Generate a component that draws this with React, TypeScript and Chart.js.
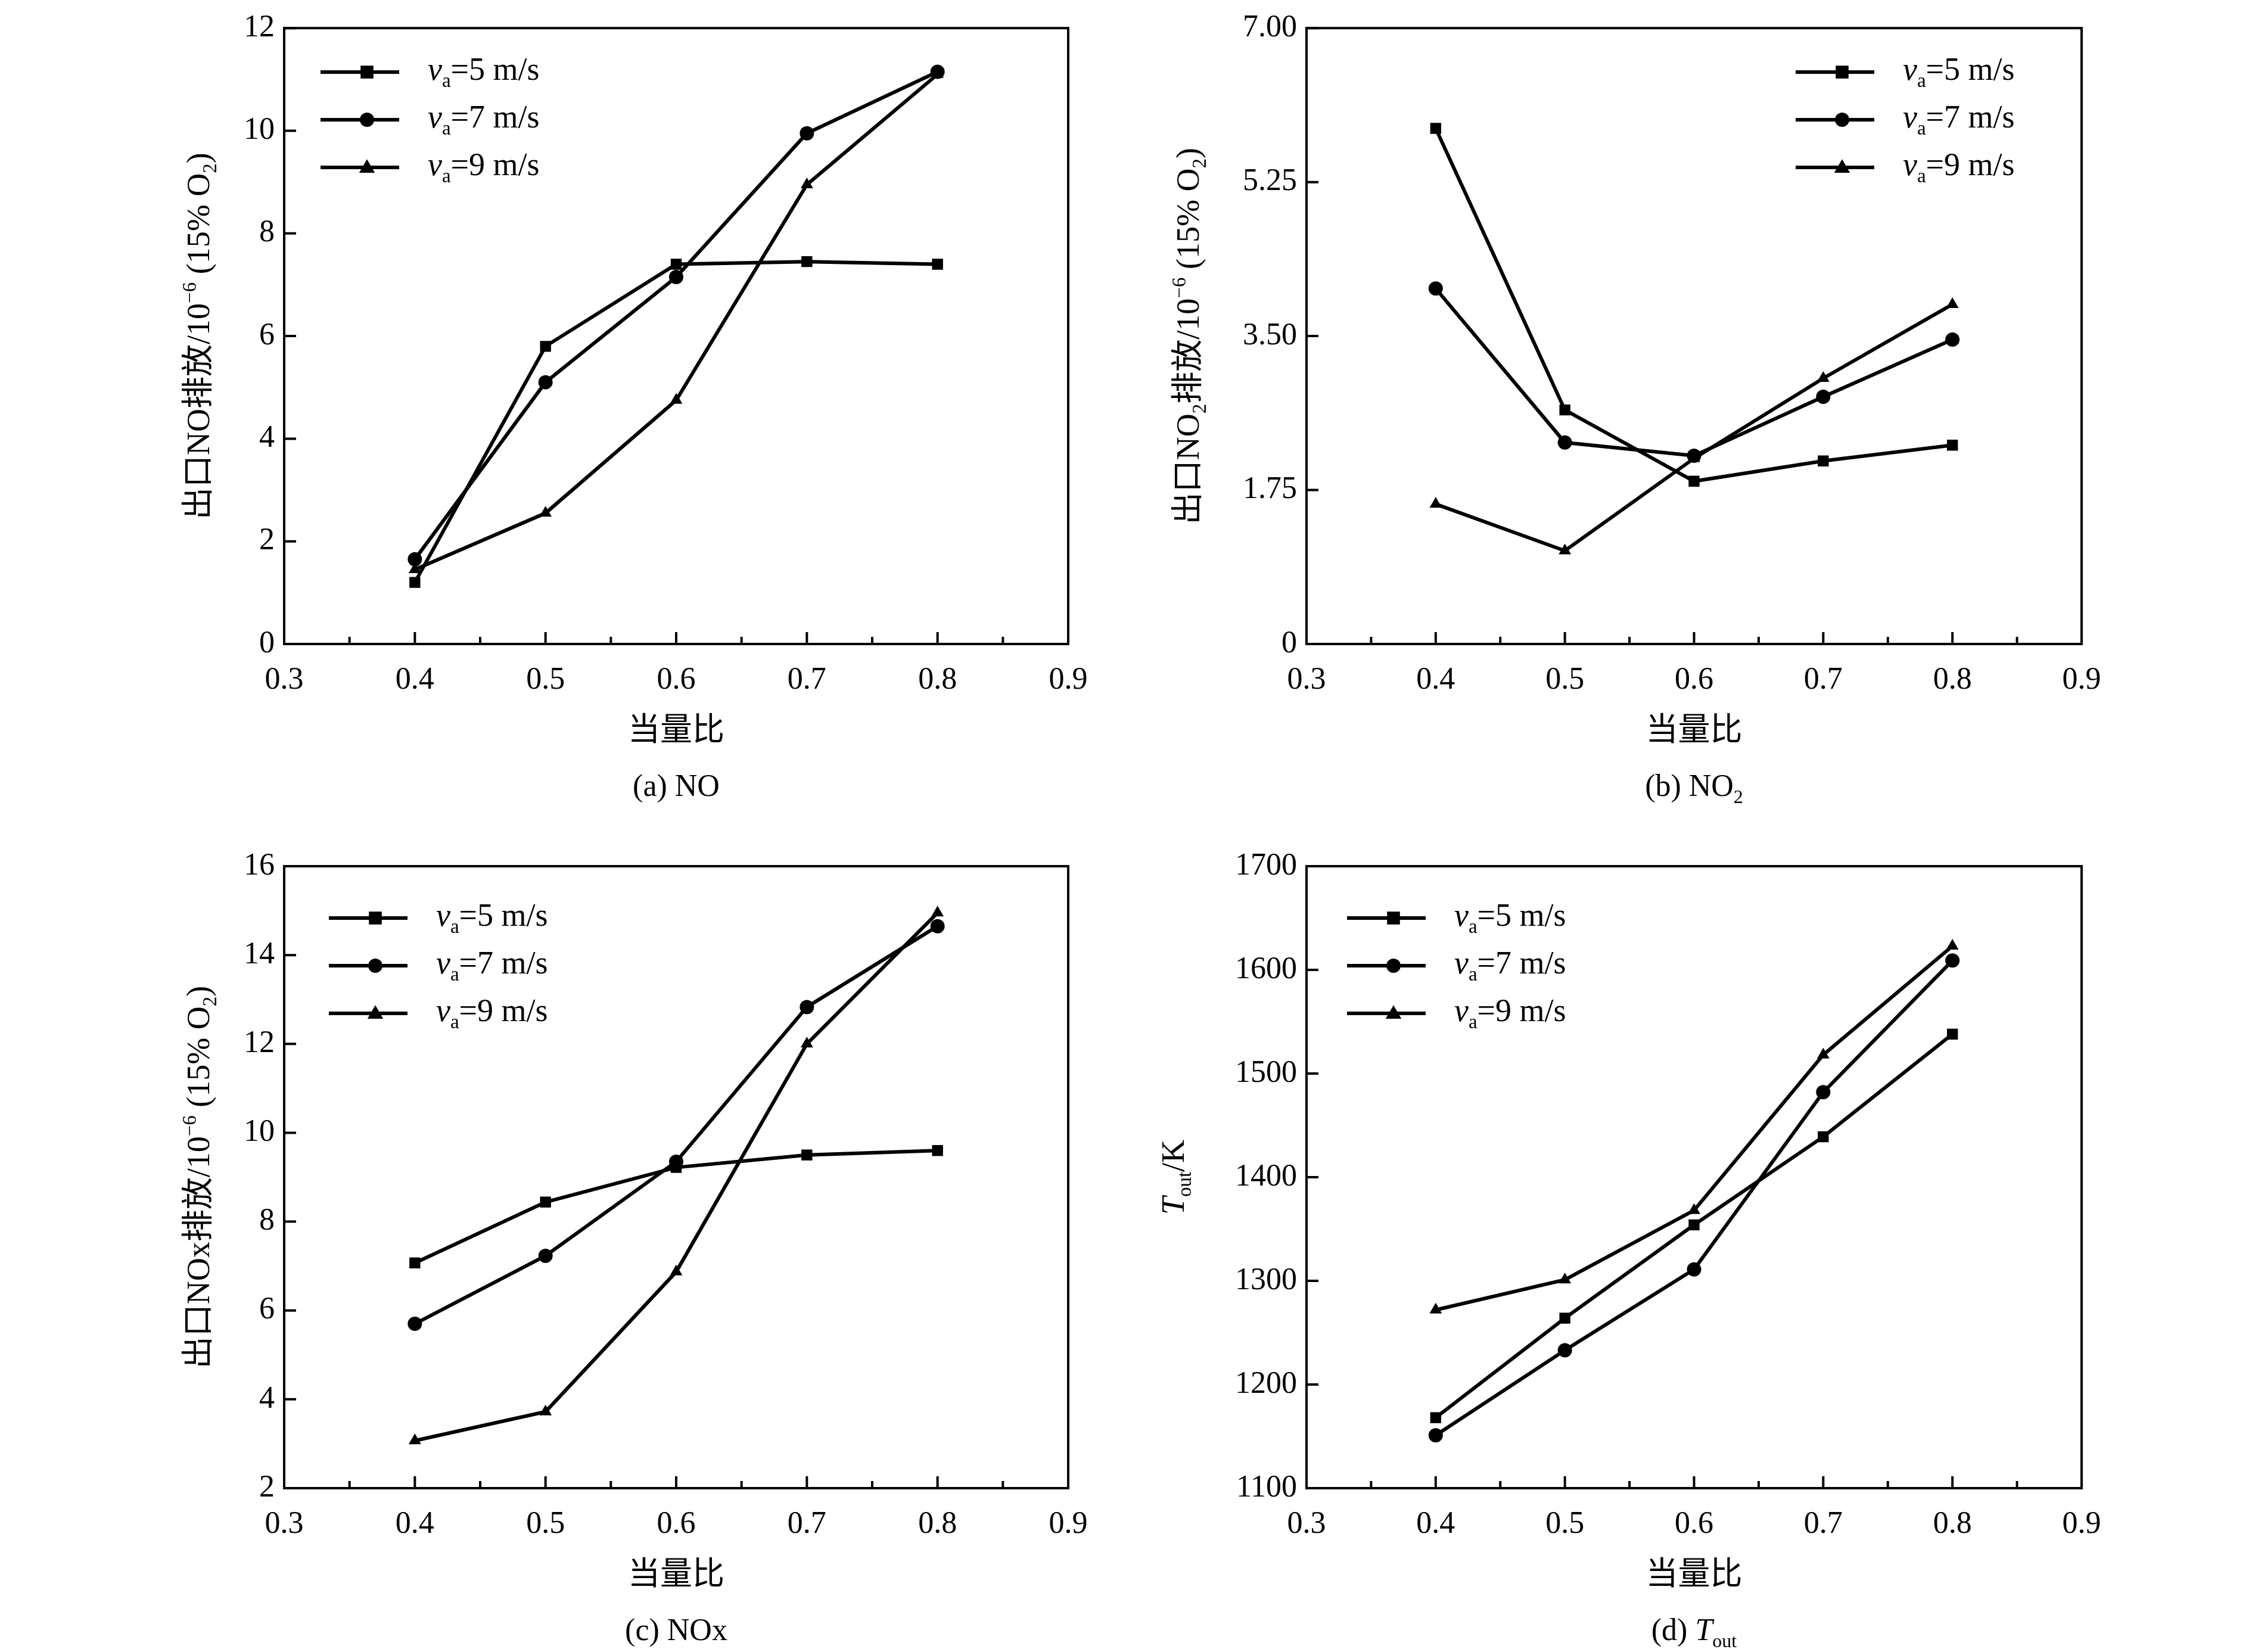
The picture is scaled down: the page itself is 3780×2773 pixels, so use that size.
import React, { useEffect, useRef } from "react";
import { Chart, registerables } from "chart.js";
Chart.register(...registerables);

const xValues = [0.4, 0.5, 0.6, 0.7, 0.8];
const legendLabels = ["5", "7", "9"];
const markerStyles = ["rect", "circle", "triangle"];

const noV5 = [1.2, 5.8, 7.4, 7.45, 7.4];
const noV7 = [1.65, 5.1, 7.15, 9.95, 11.15];
const noV9 = [1.45, 2.55, 4.75, 8.95, 11.1];

const no2V5 = [5.86, 2.66, 1.85, 2.08, 2.26];
const no2V7 = [4.04, 2.29, 2.14, 2.81, 3.46];
const no2V9 = [1.59, 1.06, 2.11, 3.02, 3.86];

const noxV5 = [7.07, 8.44, 9.22, 9.5, 9.6];
const noxV7 = [5.7, 7.23, 9.35, 12.83, 14.65];
const noxV9 = [3.07, 3.72, 6.87, 12.0, 14.95];

const tV5 = [1168, 1264, 1354, 1439, 1538];
const tV7 = [1151, 1233, 1311, 1482, 1609];
const tV9 = [1272, 1301, 1368, 1518, 1623];

type Seg = { t: string; s?: "n" | "i" | "sub" | "sup" | "cjk" };
const SERIF = '"Liberation Serif", "Times New Roman", serif';
const CJK = '"Noto Sans CJK SC", sans-serif';

function segFont(s: Seg, size: number) {
  const st = s.s || "n";
  if (st === "cjk") return `${size}px ${CJK}`;
  if (st === "i") return `italic ${size}px ${SERIF}`;
  if (st === "sub" || st === "sup") return `${Math.round(size * 0.62)}px ${SERIF}`;
  return `${size}px ${SERIF}`;
}
function drawRich(ctx: CanvasRenderingContext2D, segs: Seg[], x: number, y: number, size: number, align: "center" | "left") {
  ctx.save();
  ctx.textBaseline = "alphabetic";
  ctx.textAlign = "left";
  let w = 0;
  const ws = segs.map((s) => { ctx.font = segFont(s, size); const m = ctx.measureText(s.t).width; w += m; return m; });
  let cx = align === "center" ? x - w / 2 : x;
  const base = y + size * 0.35;
  segs.forEach((s, i) => {
    ctx.font = segFont(s, size);
    let dy = 0;
    if (s.s === "sub") dy = size * 0.22;
    if (s.s === "sup") dy = -size * 0.4;
    ctx.fillStyle = "#000";
    ctx.fillText(s.t, cx, base + dy);
    cx += ws[i];
  });
  ctx.restore();
}

type Panel = {
  data: number[][];
  ymin: number; ymax: number; ystep: number;
  yfmt: (v: number) => string;
  area: { l: number; t: number; r: number; b: number };
  box: { x: number; y: number; w: number; h: number };
  ytitle: Seg[]; ytitleDx: number;
  caption: Seg[];
  legendX: number; legendY: number;
};

const yNO: Seg[] = [{ t: "出口", s: "cjk" }, { t: "NO" }, { t: "排放", s: "cjk" }, { t: "/10" }, { t: "−6", s: "sup" }, { t: " (15% O" }, { t: "2", s: "sub" }, { t: ")" }];
const yNO2: Seg[] = [{ t: "出口", s: "cjk" }, { t: "NO" }, { t: "2", s: "sub" }, { t: "排放", s: "cjk" }, { t: "/10" }, { t: "−6", s: "sup" }, { t: " (15% O" }, { t: "2", s: "sub" }, { t: ")" }];
const yNOx: Seg[] = [{ t: "出口", s: "cjk" }, { t: "NOx" }, { t: "排放", s: "cjk" }, { t: "/10" }, { t: "−6", s: "sup" }, { t: " (15% O" }, { t: "2", s: "sub" }, { t: ")" }];
const yT: Seg[] = [{ t: "T", s: "i" }, { t: "out", s: "sub" }, { t: "/K" }];

const panels: Panel[] = [
  { data: [noV5, noV7, noV9], ymin: 0, ymax: 12, ystep: 2, yfmt: (v) => String(v),
    area: { l: 477, t: 36, r: 1793, b: 1081 }, box: { x: 0, y: 0, w: 1890, h: 1386 },
    ytitle: yNO, ytitleDx: -145, caption: [{ t: "(a) NO" }], legendX: 538, legendY: 121 },
  { data: [no2V5, no2V7, no2V9], ymin: 0, ymax: 7, ystep: 1.75, yfmt: (v) => (v === 0 ? "0" : v.toFixed(2)),
    area: { l: 2193, t: 36, r: 3494, b: 1081 }, box: { x: 1890, y: 0, w: 1890, h: 1386 },
    ytitle: yNO2, ytitleDx: -200, caption: [{ t: "(b) NO" }, { t: "2", s: "sub" }], legendX: 3014, legendY: 121 },
  { data: [noxV5, noxV7, noxV9], ymin: 2, ymax: 16, ystep: 2, yfmt: (v) => String(v),
    area: { l: 477, t: 1454, r: 1793, b: 2498 }, box: { x: 0, y: 1386, w: 1890, h: 1387 },
    ytitle: yNOx, ytitleDx: -145, caption: [{ t: "(c) NOx" }], legendX: 552, legendY: 1541 },
  { data: [tV5, tV7, tV9], ymin: 1100, ymax: 1700, ystep: 100, yfmt: (v) => String(v),
    area: { l: 2193, t: 1454, r: 3494, b: 2498 }, box: { x: 1890, y: 1386, w: 1890, h: 1387 },
    ytitle: yT, ytitleDx: -225, caption: [{ t: "(d) " }, { t: "T", s: "i" }, { t: "out", s: "sub" }], legendX: 2261, legendY: 1541 },
];

function drawMarker(ctx: CanvasRenderingContext2D, style: string, x: number, y: number, r: number) {
  ctx.beginPath();
  if (style === "rect") ctx.rect(x - r * 0.9, y - r * 0.9, r * 1.8, r * 1.8);
  else if (style === "circle") ctx.arc(x, y, r, 0, Math.PI * 2);
  else { ctx.moveTo(x, y - r * 1.15); ctx.lineTo(x + r * 1.1, y + r * 0.75); ctx.lineTo(x - r * 1.1, y + r * 0.75); ctx.closePath(); }
  ctx.fill();
}

function PanelChart({ p }: { p: Panel }) {
  const ref = useRef<HTMLCanvasElement>(null);
  useEffect(() => {
    const a = p.area, b = p.box;
    const padTop = a.t - b.y, padRight = b.x + b.w - a.r;
    const yW = a.l - b.x, xH = b.y + b.h - a.b;
    const deco = {
      id: "deco",
      afterDraw(chart: any) {
        const ctx = chart.ctx as CanvasRenderingContext2D;
        const ca = chart.chartArea;
        const xs = chart.scales.x, ys = chart.scales.y;
        ctx.save();
        ctx.strokeStyle = "#000";
        ctx.lineWidth = 4;
        ctx.strokeRect(ca.left, ca.top, ca.right - ca.left, ca.bottom - ca.top);
        ctx.beginPath();
        for (let v = 0.3; v <= 0.9001; v += 0.05) {
          const px = xs.getPixelForValue(v);
          const major = Math.abs(Math.round(v * 10) - v * 10) < 1e-6;
          ctx.moveTo(px, ca.bottom); ctx.lineTo(px, ca.bottom - (major ? 20 : 12));
        }
        for (let v = p.ymin; v <= p.ymax + 1e-6; v += p.ystep) {
          const py = ys.getPixelForValue(v);
          ctx.moveTo(ca.left, py); ctx.lineTo(ca.left + 20, py);
        }
        ctx.stroke();
        const cx = (ca.left + ca.right) / 2;
        drawRich(ctx, [{ t: "当量比", s: "cjk" }], cx, ca.bottom + 143, 54, "center");
        drawRich(ctx, p.caption, cx, ca.bottom + 237, 52, "center");
        ctx.save();
        ctx.translate(ca.left + p.ytitleDx, (ca.top + ca.bottom) / 2);
        ctx.rotate(-Math.PI / 2);
        drawRich(ctx, p.ytitle, 0, 0, 54, "center");
        ctx.restore();
        // legend
        const lx = p.legendX - b.x, ly = p.legendY - b.y;
        ctx.fillStyle = "#000";
        ctx.lineWidth = 6;
        legendLabels.forEach((lab, i) => {
          const y = ly + i * 80;
          ctx.beginPath(); ctx.moveTo(lx, y); ctx.lineTo(lx + 132, y); ctx.stroke();
          drawMarker(ctx, markerStyles[i], lx + 78, y, 12);
          drawRich(ctx, [{ t: "v", s: "i" }, { t: "a", s: "sub" }, { t: "=" + lab + " m/s" }], lx + 180, y - 6, 54, "left");
        });
        ctx.restore();
      },
    };
    const chart = new Chart(ref.current!, {
      type: "line",
      data: {
        datasets: p.data.map((d, i) => ({
          data: d.map((v, j) => ({ x: xValues[j], y: v })),
          borderColor: "#000", backgroundColor: "#000", borderWidth: 6,
          pointStyle: markerStyles[i] as any, pointRadius: i === 0 ? 13 : 12, pointBorderWidth: 0,
        })),
      },
      options: {
        animation: false, responsive: false, maintainAspectRatio: false,
        layout: { padding: { top: padTop, right: padRight, left: 0, bottom: 0 } },
        plugins: { legend: { display: false }, tooltip: { enabled: false } },
        scales: {
          x: {
            type: "linear", min: 0.3, max: 0.9,
            afterFit: (s: any) => { s.height = xH; },
            grid: { display: false, drawTicks: false }, border: { display: false },
            ticks: { stepSize: 0.1, padding: 30, color: "#000", font: { family: SERIF, size: 52 }, callback: (v: any) => Number(v).toFixed(1) },
          },
          y: {
            min: p.ymin, max: p.ymax,
            afterFit: (s: any) => { s.width = yW; },
            grid: { display: false, drawTicks: false }, border: { display: false },
            ticks: { stepSize: p.ystep, padding: 16, color: "#000", font: { family: SERIF, size: 52 }, callback: (v: any) => p.yfmt(Number(v)) },
          },
        },
      },
      plugins: [deco],
    });
    return () => chart.destroy();
  }, []);
  return (
    <div style={{ position: "absolute", left: p.box.x, top: p.box.y, width: p.box.w, height: p.box.h }}>
      <canvas ref={ref} width={p.box.w} height={p.box.h} style={{ width: p.box.w, height: p.box.h }} />
    </div>
  );
}

export default function App() {
  return (
    <div style={{ position: "fixed", left: 0, top: 0, width: 3780, height: 2773, background: "#fff" }}>
      {panels.map((p, i) => <PanelChart key={i} p={p} />)}
    </div>
  );
}
